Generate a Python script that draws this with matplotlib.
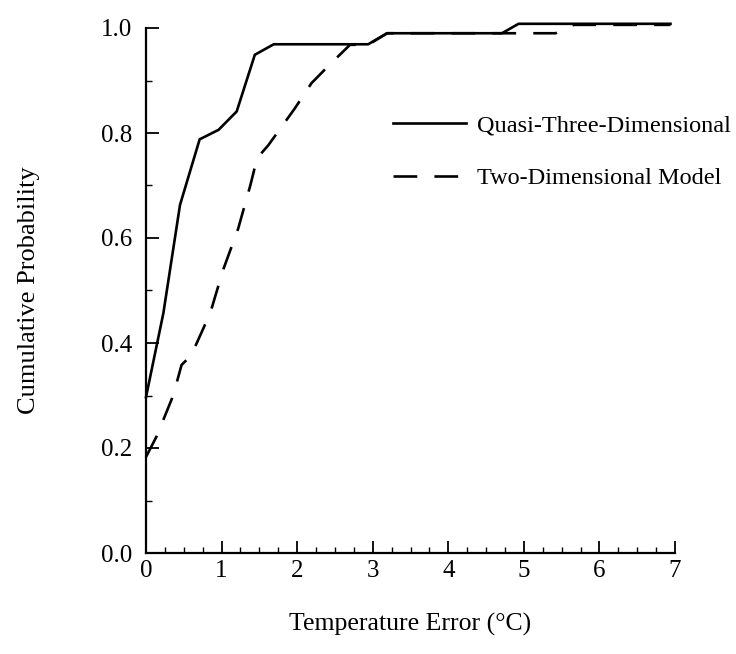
import matplotlib
matplotlib.use("Agg")
import matplotlib.pyplot as plt
from matplotlib.ticker import MultipleLocator

plt.rcParams['font.family'] = ['Liberation Serif', 'DejaVu Serif']

# 数据
x_quasi = [0, 0.23, 0.45, 0.71, 0.96, 1.2, 1.44, 1.69, 2.94, 3.19, 4.71, 4.93, 6.94]
y_quasi = [0.297, 0.457, 0.663, 0.788, 0.806, 0.841, 0.949, 0.969, 0.969, 0.99, 0.99, 1.008, 1.008]

x_two = [0, 0.14, 0.36, 0.47, 0.6, 0.85, 1.02, 1.22, 1.38, 1.47, 1.62, 1.97, 2.19,
         2.45, 2.7, 2.94, 3.19, 5.42, 5.66, 6.94]
y_two = [0.183, 0.222, 0.30, 0.358, 0.377, 0.457, 0.539, 0.618, 0.70, 0.752, 0.777,
         0.847, 0.895, 0.933, 0.968, 0.968, 0.99, 0.99, 1.006, 1.006]

labels = ["Quasi-Three-Dimensional", "Two-Dimensional Model"]
y_ticks = [0, 0.2, 0.4, 0.6, 0.8, 1.0]

fig = plt.figure(figsize=(7.36, 6.54), dpi=100)
ax = fig.add_axes([146 / 736, 101 / 654, 529 / 736, 525 / 654])

ax.plot(x_quasi, y_quasi, color="black", lw=1.9, label=labels[0], clip_on=False)
ax.plot(x_two, y_two, color="black", lw=1.9, dashes=(9, 6.5), label=labels[1], clip_on=False)

ax.set_xlim(0, 7)
ax.set_ylim(0, 1.0)

# 只保留左边和下边的坐标轴
for side in ["top", "right"]:
    ax.spines[side].set_visible(False)
for side in ["left", "bottom"]:
    ax.spines[side].set_linewidth(1.6)

ax.xaxis.set_major_locator(MultipleLocator(1))
ax.xaxis.set_minor_locator(MultipleLocator(0.25))
ax.yaxis.set_minor_locator(MultipleLocator(0.1))
ax.set_yticks(y_ticks)
ax.set_yticklabels(["{:.1f}".format(v) for v in y_ticks])

ax.tick_params(which="major", direction="in", length=9, width=1.3, labelsize=18)
ax.tick_params(which="minor", direction="in", length=4, width=1.0)
ax.tick_params(axis="y", which="major", pad=10)
ax.tick_params(axis="x", which="major", pad=5)

ax.set_xlabel("Temperature Error (°C)", fontsize=18.5, labelpad=22)
ax.set_ylabel("Cumulative Probability", fontsize=19, labelpad=44)

ax.legend(frameon=False, loc="upper left", bbox_to_anchor=(393 / 736, 1 - 114 / 654),
          bbox_transform=fig.transFigure, fontsize=17.5, handlelength=3.0,
          handletextpad=0.45, labelspacing=1.28, borderaxespad=0, borderpad=0)

plt.savefig("out.png", dpi=100)
